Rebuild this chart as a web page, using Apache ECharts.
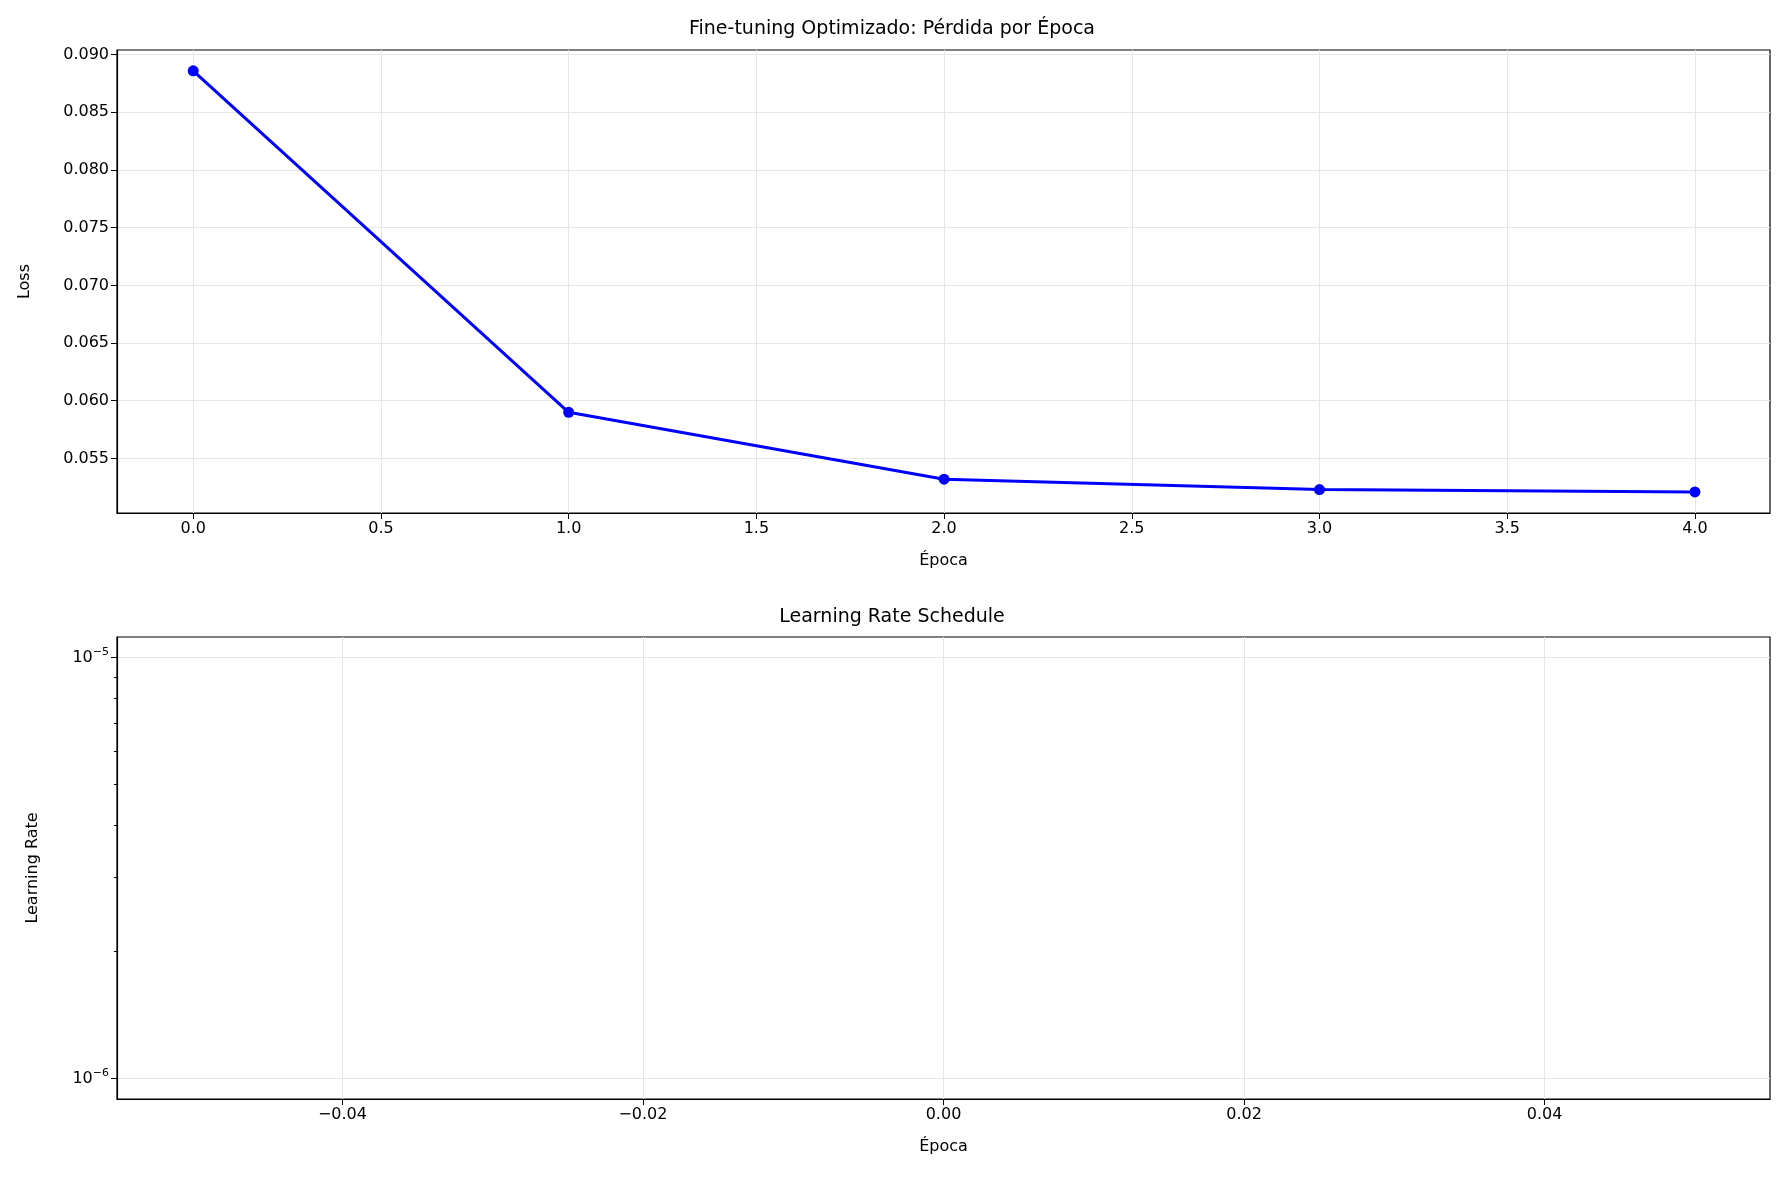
<!DOCTYPE html>
<html>
<head>
<meta charset="utf-8">
<script src="https://cdn.jsdelivr.net/npm/echarts@6/dist/echarts.min.js"></script>
<style>html,body{margin:0;background:#fff}#c{width:1784px;height:1182px}</style>
</head>
<body>
<div id="c"></div>
<script>
// 数据
const epochs = [0, 1, 2, 3, 4]
const losses = [0.0886, 0.0590, 0.0532, 0.0523, 0.0521]
const lossTicks = [0.055, 0.060, 0.065, 0.070, 0.075, 0.080, 0.085, 0.090]
const epochTicks = [0, 0.5, 1, 1.5, 2, 2.5, 3, 3.5, 4]
const lrTicksX = [-0.04, -0.02, 0, 0.02, 0.04]
const lrMajor = [-6, -5]
const lrMinor = [2, 3, 4, 5, 6, 7, 8, 9].map(k => Math.log10(k * 1e-6))

const font = 'DejaVu Sans'
const axisLine = { show: true, onZero: false, lineStyle: { color: '#000', width: 1.2 } }
const tick = { show: true, inside: false, length: 6, lineStyle: { color: '#000' } }
const label = { color: '#000', fontSize: 16, fontFamily: font }
const grid = { show: true, lineStyle: { color: '#e6e6e6' } }

const chart = echarts.init(document.getElementById('c'))
const option = {
    animation: false,
    title: [
        { text: 'Fine-tuning Optimizado: Pérdida por Época', left: 'center', top: 15, textStyle: { fontFamily: font, fontSize: 19, fontWeight: 'normal', color: '#000' } },
        { text: 'Learning Rate Schedule', left: 'center', top: 603, textStyle: { fontFamily: font, fontSize: 19, fontWeight: 'normal', color: '#000' } }
    ],
    grid: [
        { left: 117, right: 14, top: 50, height: 463, show: true, borderColor: '#000', borderWidth: 1.2 },
        { left: 117, right: 14, top: 637, height: 462, show: true, borderColor: '#000', borderWidth: 1.2 }
    ],
    xAxis: [
        {
            gridIndex: 0, type: 'value', min: -0.203, max: 4.2,
            name: 'Época', nameLocation: 'middle', nameGap: 40, nameTextStyle: label,
            axisLine, axisTick: { ...tick, customValues: epochTicks },
            axisLabel: { ...label, customValues: epochTicks, formatter: v => v.toFixed(1) },
            splitLine: grid
        },
        {
            gridIndex: 1, type: 'value', min: -0.055, max: 0.055,
            name: 'Época', nameLocation: 'middle', nameGap: 40, nameTextStyle: label,
            axisLine, axisTick: { ...tick, customValues: lrTicksX },
            axisLabel: { ...label, customValues: lrTicksX, formatter: v => (v < 0 ? '−' : '') + Math.abs(v).toFixed(2) },
            splitLine: grid
        }
    ],
    yAxis: [
        {
            gridIndex: 0, type: 'value', min: 0.05027, max: 0.0904,
            name: 'Loss', nameLocation: 'middle', nameGap: 84, nameTextStyle: label,
            axisLine, axisTick: { ...tick, customValues: lossTicks },
            axisLabel: { ...label, customValues: lossTicks, formatter: v => v.toFixed(3) },
            splitLine: grid
        },
        {
            gridIndex: 1, type: 'value', min: -6.049, max: -4.951,
            name: 'Learning Rate', nameLocation: 'middle', nameGap: 76, nameTextStyle: label,
            axisLine, axisTick: { ...tick, customValues: lrMajor },
            axisLabel: {
                ...label, customValues: lrMajor,
                formatter: v => '10{s|−' + (v === -5 ? '5' : '6') + '}',
                rich: { s: { fontSize: 11, fontFamily: font, color: '#000', verticalAlign: 'top', padding: [0, 0, 10, 0] } }
            },
            splitLine: grid
        },
        {
            gridIndex: 1, type: 'value', min: -6.049, max: -4.951, position: 'left',
            axisLine: { show: true, onZero: false, lineStyle: { color: 'rgba(0,0,0,0)' } },
            axisTick: { ...tick, length: 3, customValues: lrMinor },
            axisLabel: { show: false }, splitLine: { show: false }
        }
    ],
    series: [
        {
            type: 'line', xAxisIndex: 0, yAxisIndex: 0,
            data: epochs.map((e, i) => [e, losses[i]]),
            lineStyle: { color: '#0000ff', width: 3 },
            itemStyle: { color: '#0000ff' },
            symbol: 'circle', symbolSize: 11
        },
        { type: 'line', xAxisIndex: 1, yAxisIndex: 1, data: [] }
    ]
}
chart.setOption(option)
</script>
</body>
</html>
